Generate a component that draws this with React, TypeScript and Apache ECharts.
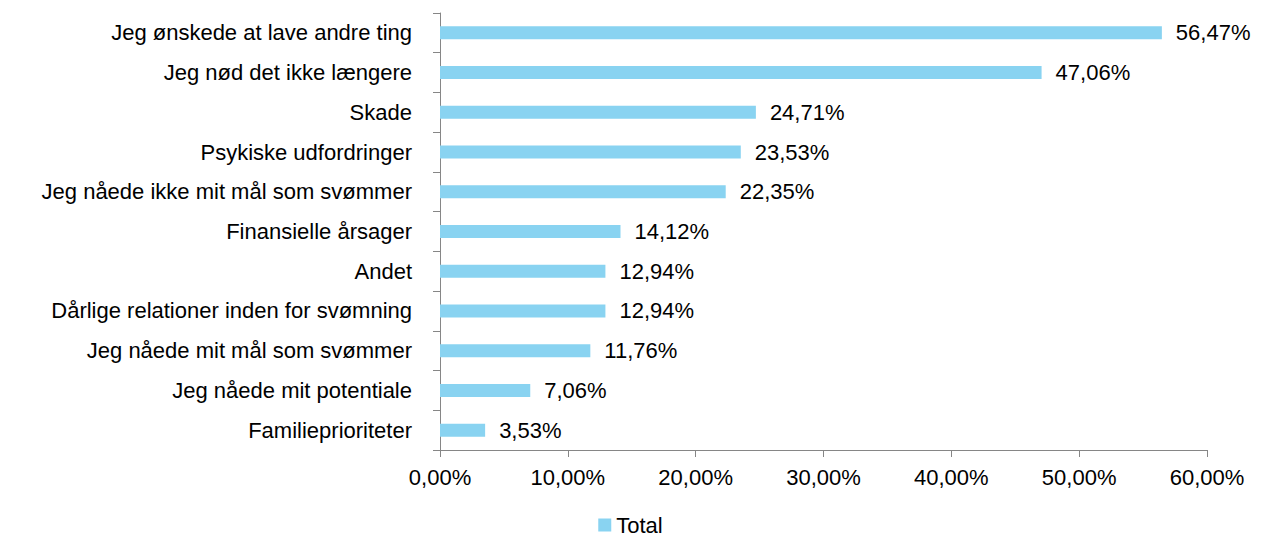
import React, { useEffect, useRef } from "react";
import * as echarts from "echarts";

const categories = [
  "Jeg ønskede at lave andre ting",
  "Jeg nød det ikke længere",
  "Skade",
  "Psykiske udfordringer",
  "Jeg nåede ikke mit mål som svømmer",
  "Finansielle årsager",
  "Andet",
  "Dårlige relationer inden for svømning",
  "Jeg nåede mit mål som svømmer",
  "Jeg nåede mit potentiale",
  "Familieprioriteter",
];
const totalValues = [56.47, 47.06, 24.71, 23.53, 22.35, 14.12, 12.94, 12.94, 11.76, 7.06, 3.53];
const seriesName = "Total";

const fmt = (v: number) => v.toFixed(2).replace(".", ",") + "%";

export default function App() {
  const ref = useRef<HTMLDivElement>(null);
  useEffect(() => {
    if (!ref.current) return;
    const chart = echarts.init(ref.current, undefined, { renderer: "svg" });
    const font = "Liberation Sans, Arial, sans-serif";
    chart.setOption({
      animation: false,
      textStyle: { fontFamily: font },
      grid: { left: 440, right: 54, top: 13, bottom: 89, containLabel: false },
      legend: {
        top: 509,
        left: "center",
        padding: 5,
        itemWidth: 13,
        itemHeight: 13,
        itemGap: 10,
        icon: "rect",
        textStyle: { fontSize: 22, color: "#000", fontFamily: font },
        data: [seriesName],
      },
      xAxis: {
        type: "value",
        min: 0,
        max: 60,
        interval: 10,
        axisLine: { show: true, lineStyle: { color: "#868686", width: 1 } },
        axisTick: { show: true, length: 7, lineStyle: { color: "#868686" } },
        splitLine: { show: false },
        axisLabel: { formatter: (v: number) => fmt(v), color: "#000", fontSize: 22, margin: 16, fontFamily: font },
      },
      yAxis: {
        type: "category",
        inverse: true,
        data: categories,
        axisLine: { show: true, lineStyle: { color: "#868686", width: 1 } },
        axisTick: { show: true, length: 7, alignWithLabel: false, lineStyle: { color: "#868686" } },
        axisLabel: { color: "#000", fontSize: 22, margin: 28, fontFamily: font },
      },
      series: [
        {
          name: seriesName,
          type: "bar",
          data: totalValues,
          barWidth: 13,
          itemStyle: { color: "#89d3f1" },
          label: {
            show: true,
            position: "right",
            distance: 14,
            color: "#000",
            fontSize: 22,
            fontFamily: font,
            formatter: (p: any) => fmt(p.value),
          },
        },
      ],
    });
    return () => chart.dispose();
  }, []);
  return (
    <div
      ref={ref}
      style={{ position: "fixed", left: 0, top: 0, width: 1261, height: 539, background: "#fff" }}
    />
  );
}
